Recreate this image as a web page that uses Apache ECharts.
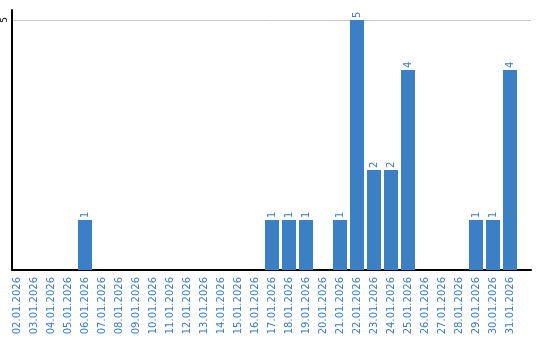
<!DOCTYPE html>
<html>
<head>
<meta charset="utf-8">
<style>html,body{margin:0;padding:0;background:#fff;}#c{width:540px;height:340px;}</style>
<script src="https://cdn.jsdelivr.net/npm/echarts@6/dist/echarts.min.js"></script>
</head>
<body>
<div id="c"></div>
<script>
const categories = ['02.01.2026','03.01.2026','04.01.2026','05.01.2026','06.01.2026','07.01.2026','08.01.2026','09.01.2026','10.01.2026','11.01.2026','12.01.2026','13.01.2026','14.01.2026','15.01.2026','16.01.2026','17.01.2026','18.01.2026','19.01.2026','20.01.2026','21.01.2026','22.01.2026','23.01.2026','24.01.2026','25.01.2026','26.01.2026','27.01.2026','28.01.2026','29.01.2026','30.01.2026','31.01.2026'];
const counts = [0,0,0,0,1,0,0,0,0,0,0,0,0,0,0,1,1,1,0,1,5,2,2,4,0,0,0,1,1,4];
const yTicks = [5];

const blue = '#3b7fc4';
const chart = echarts.init(document.getElementById('c'), null, {renderer: 'canvas'});
chart.setOption({
  animation: false,
  backgroundColor: '#fff',
  grid: [
    {left: 10, right: 9, top: 10, bottom: 70},
    {left: 8.5, width: 510, top: 10, bottom: 70}
  ],
  xAxis: [
    {type: 'value', gridIndex: 0, min: 0, max: 1,
      axisLine: {show: true, onZero: false, lineStyle: {color: '#000', width: 2}},
      axisTick: {show: false}, axisLabel: {show: false}, splitLine: {show: false}},
    {type: 'category', gridIndex: 1, data: categories, boundaryGap: true,
      axisLine: {show: false}, axisTick: {show: false},
      axisLabel: {interval: 0, rotate: 90, margin: 7, color: blue,
        fontFamily: 'DejaVu Sans', fontSize: 10}}
  ],
  yAxis: [
    {type: 'value', gridIndex: 0, min: 0, max: 5.2, interval: 5,
      axisLine: {show: true, lineStyle: {color: '#000', width: 2}},
      axisTick: {show: false},
      axisLabel: {rotate: 90, margin: 3, color: '#000', fontFamily: 'DejaVu Sans', fontSize: 9,
        formatter: v => yTicks.includes(v) ? String(v) : ''},
      splitLine: {show: true, showMinLine: false, showMaxLine: false, lineStyle: {color: '#c8c8c8', width: 1}}},
    {type: 'value', gridIndex: 1, min: 0, max: 5.2, show: false}
  ],
  series: [{
    type: 'bar', xAxisIndex: 1, yAxisIndex: 1,
    data: counts, barWidth: 14,
    itemStyle: {color: blue},
    label: {show: true, position: 'top', rotate: 90, align: 'left', verticalAlign: 'middle',
      distance: 2, color: blue, fontFamily: 'DejaVu Sans', fontSize: 10,
      formatter: p => p.value ? String(p.value) : ''}
  }]
});
</script>
</body>
</html>
